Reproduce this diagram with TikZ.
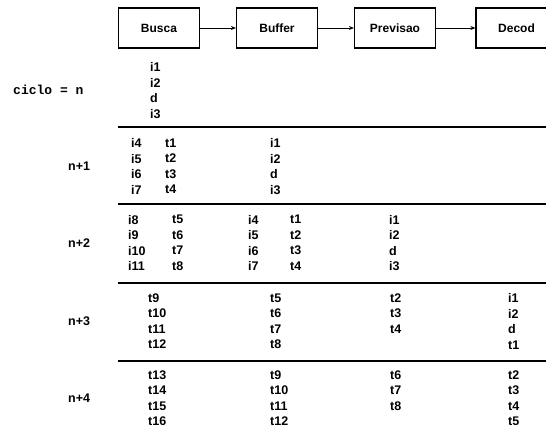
\documentclass[tikz,border=0pt]{standalone}
\usepackage{fontspec}
\setmainfont{Liberation Sans}
\setmonofont{Liberation Mono}
\usetikzlibrary{arrows.meta}

\begin{document}
\begin{tikzpicture}[x=1pt, y=-1pt,
    stage/.style={draw, line width=1.2pt, minimum width=81pt, minimum height=40pt, font=\fontsize{12}{15}\selectfont\bfseries},
    cell/.style={anchor=north west, inner sep=0pt, align=left, font=\fontsize{12.5}{15.5}\selectfont\bfseries},
    cyc/.style={anchor=west, inner sep=0pt, font=\fontsize{12.5}{15}\selectfont\bfseries},
    sep/.style={line width=1.5pt}]
    \useasboundingbox (0,0) rectangle (546,436);

    % estagios
    \node[stage] (busca) at (159,28) {Busca};
    \node[stage] (buffer) at (277,28) {Buffer};
    \node[stage] (previsao) at (395,28) {Previsao};
    \node[stage] (decod) at (516.5,28) {Decod};

    \draw[-{Stealth[length=5pt,width=4pt]}, line width=0.8pt] (busca) -- (buffer);
    \draw[-{Stealth[length=5pt,width=4pt]}, line width=0.8pt] (buffer) -- (previsao);
    \draw[-{Stealth[length=5pt,width=4pt]}, line width=0.8pt] (previsao) -- (decod);

    % ciclos
    \node[cyc, font=\fontsize{13}{15}\selectfont\ttfamily\bfseries] (lbl0) at (13,90) {ciclo = n};
    \foreach \y/\t [count=\k] in {166/n+1, 243/n+2, 321/n+3, 398/n+4}
        \node[cyc] (lbl\k) at (68,\y) {\t};

    \foreach \y in {127,204,283,361}
        \draw[sep] (118,\y) -- (546,\y);

    % ciclo n
    \node[cell] (g0a) at (150,62.5) {i1\\i2\\d\\i3};
    % ciclo n+1
    \node[cell] (g1a) at (131,138.5) {i4\\i5\\i6\\i7};
    \node[cell] (g1b) at (165,138.5) {t1\\t2\\t3\\t4};
    \node[cell] (g1c) at (270,138.5) {i1\\i2\\d\\i3};
    % ciclo n+2
    \node[cell] (g2a) at (128,215) {i8\\i9\\i10\\i11};
    \node[cell] (g2b) at (172,215) {t5\\t6\\t7\\t8};
    \node[cell] (g2c) at (248,215) {i4\\i5\\i6\\i7};
    \node[cell] (g2d) at (290,215) {t1\\t2\\t3\\t4};
    \node[cell] (g2e) at (389,215) {i1\\i2\\d\\i3};
    % ciclo n+3
    \node[cell] (g3a) at (148,293.5) {t9\\t10\\t11\\t12};
    \node[cell] (g3b) at (270,293.5) {t5\\t6\\t7\\t8};
    \node[cell] (g3c) at (390,293.5) {t2\\t3\\t4};
    \node[cell] (g3d) at (508,293.5) {i1\\i2\\d\\t1};
    % ciclo n+4
    \node[cell] (g4a) at (148,370.5) {t13\\t14\\t15\\t16};
    \node[cell] (g4b) at (270,370.5) {t9\\t10\\t11\\t12};
    \node[cell] (g4c) at (390,370.5) {t6\\t7\\t8};
    \node[cell] (g4d) at (508,370.5) {t2\\t3\\t4\\t5};
\end{tikzpicture}
\end{document}
